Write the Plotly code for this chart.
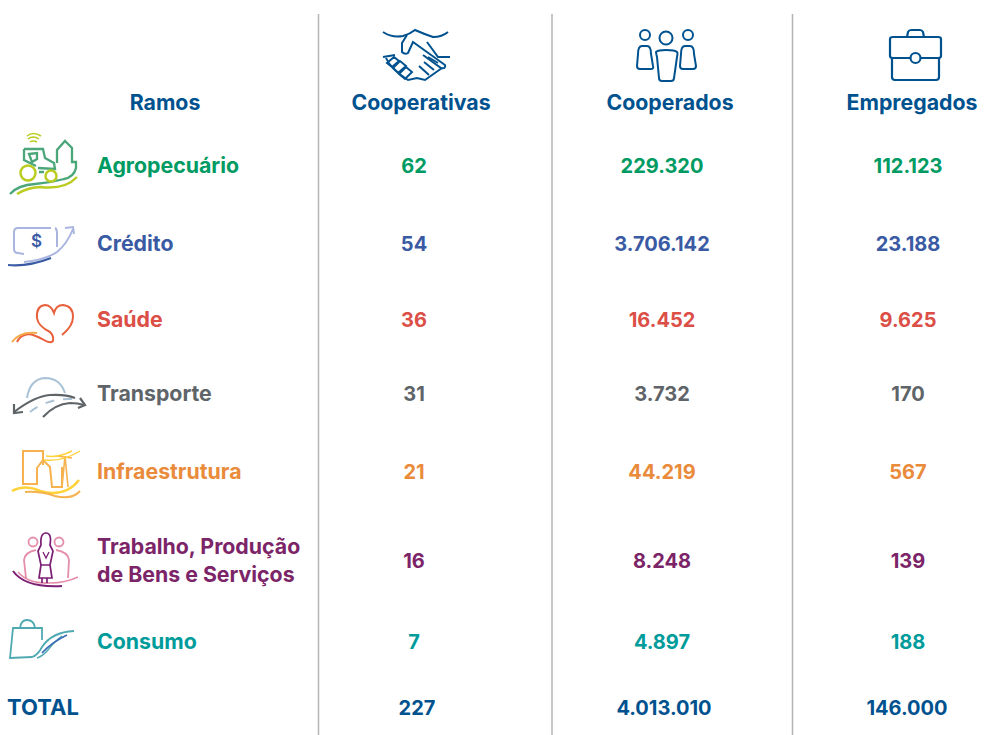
import plotly.graph_objects as go

ramos = ["Agropecuário", "Crédito", "Saúde", "Transporte", "Infraestrutura",
         "Trabalho, Produção<br>de Bens e Serviços", "Consumo"]
cooperativas = ["62", "54", "36", "31", "21", "16", "7"]
cooperados = ["229.320", "3.706.142", "16.452", "3.732", "44.219", "8.248", "4.897"]
empregados = ["112.123", "23.188", "9.625", "170", "567", "139", "188"]
cores = ["#009B63", "#3A5BA4", "#DB4F47", "#5E6468", "#E98B3B", "#7C2468", "#009B9B"]
headers = ["Ramos", "Cooperativas", "Cooperados", "Empregados"]
total = ["TOTAL", "227", "4.013.010", "146.000"]

NAVY = "#00528F"
FONT = "Inter"
SIZE = 21.3
NUM = 20
row_y = [167.5, 245.5, 321.5, 395.5, 473.5, 562.5, 643.5]
col_x = [414, 662, 908]
hdr_x = [165, 421, 670, 912]
total_x = [43, 417, 664, 907]
sep_x = [318.5, 552, 792.5]

fig = go.Figure()


def txt(x, y, s, color, pos="middle center", size=SIZE):
    fig.add_trace(go.Scatter(
        x=x, y=y, text=s, mode="text", textposition=pos, hoverinfo="skip",
        textfont=dict(family=FONT, size=size, color=color, weight=700),
        showlegend=False))


shapes = []


def ln(path, color, w=2.0, dash=None):
    shapes.append(dict(type="path", path=path, xref="x", yref="y",
                       line=dict(color=color, width=w, dash=dash or "solid")))


def circ(cx, cy, r, color, w=2.0):
    shapes.append(dict(type="circle", xref="x", yref="y", x0=cx - r, x1=cx + r,
                       y0=cy - r, y1=cy + r, line=dict(color=color, width=w)))


for sx in sep_x:
    shapes.append(dict(type="line", xref="x", yref="y", x0=sx, x1=sx, y0=14, y1=735,
                       line=dict(color="#B4B4B4", width=1.5)))

# --- header icons (decorative) ---
# handshake
ln("M383,32 Q392,38 403,36 Q410,34 415,30 Q424,34 433,37 Q442,37 448,32", NAVY, 2)
ln("M407,35 L402,43 L402,52 Q405,55 408,53 L413,42 L445,65 Q446,69 441,68 L423,55", NAVY, 2)
ln("M427,42 L438,57 L450,57", NAVY, 2)
ln("M383,57 L395,55", NAVY, 2)
ln("M386,58 Q390,68 408,80 L417,78 L425,80 L442,68", NAVY, 2)
ln("M428,57 L438,63 M424,62 L434,70 M419,66 L429,75", NAVY, 2)
ln("M387,63 L394,57 L399,61 L392,67 Z M393,68 L400,61 L406,66 L398,73 Z M399,74 L406,67 L412,72 L405,79 Z", NAVY, 2)
# people
circ(645, 35, 5, NAVY, 2)
circ(666, 38, 6.5, NAVY, 2)
circ(688, 35, 5, NAVY, 2)
ln("M642,46 Q638,46 638,54 L637,66 Q637,69 640,69 L651,69 Q654,69 653,66 L651,54 Q651,46 647,46 Z", NAVY, 2)
ln("M656,52 Q658,50 666,50 Q675,50 677,52 Q678,53 677,57 L674,78 Q674,81 671,81 L662,81 Q659,81 659,78 L657,57 Q656,53 656,52 Z", NAVY, 2)
ln("M685,46 Q681,46 681,54 L680,66 Q680,69 683,69 L693,69 Q696,69 696,66 L694,54 Q694,46 690,46 Z", NAVY, 2)
# briefcase
ln("M890,39 Q890,37 893,37 L938,37 Q941,37 941,39 L941,56 Q941,58 938,58 L893,58 Q890,58 890,56 Z", NAVY, 2.2)
ln("M892,58 L892,77 Q892,80 895,80 L936,80 Q939,80 939,77 L939,58", NAVY, 2.2)
ln("M907,37 L908,32 Q909,30 911,30 L920,30 Q922,30 923,32 L924,37", NAVY, 2.2)
shapes.append(dict(type="circle", xref="x", yref="y", x0=910.5, x1=920.5, y0=53, y1=63,
                   fillcolor="white", line=dict(color=NAVY, width=2.2)))

# --- row icons (decorative) ---
# agro
G = "#4BA67A"; L = "#B9CC1F"
ln("M57,163 L57,150 L65,141 L72,148 L72,162 L76,162 L76,168 Q74,177 64,179 Q50,183 35,184 Q18,185 10,194", G, 2.3)
ln("M24,149 L43,149 L45,158 L54,163 L55,169 L38,168 M24,149 L24,160 L36,166 M29,154 L37,153 L37,159 L32,162 Z M39,172 L44,172", G, 2.3)
circ(28, 173, 7.5, L, 2.5)
circ(51, 176, 5.5, L, 2.5)
ln("M17,194 Q26,188 40,187 Q65,190 77,177", L, 2.4)
ln("M28,139 Q33,135 39,139 M30,142 Q33,140 37,142", L, 1.5)
ln("M27,136 Q33,131 41,136", L, 1.5)
# credito
B = "#A9B5DF"
ln("M51,228 L18,228 Q14,228 14,232 L14,249 Q14,253 18,253 L24,254", B, 2)
ln("M55,228 Q57,229 57,233 L57,247", B, 2)
ln("M24,262 Q45,260 57,252 Q67,244 73,229", B, 2)
ln("M65,228 L73,227 L74,234", B, 2)
ln("M8,265 Q28,267 51,258", "#3A5BA4", 2.2)
# saude
R = "#E8603C"
ln("M62,335 Q73,326 73,317 Q73,306 63,305 Q56,305 54,313 Q51,305 45,305 Q36,306 37,318 Q38,326 50,332 Q54,336 53,341 Q50,344 44,340 Q30,332 25,335 Q20,336 17,342", R, 2)
ln("M12,342 Q20,331 37,333", "#F5A94A", 2)
# transporte
T = "#5E6468"
ln("M27,398 Q30,379 45,378 Q60,378 65,393", "#A9C2D6", 2)
ln("M14,412 Q35,396 50,395 Q65,394 75,398", T, 2.2)
ln("M14,404 L14,413 L23,412", T, 2.2)
ln("M43,417 Q55,404 70,403 Q78,403 84,405", T, 2.2)
ln("M80,398 L85,405 L78,408", T, 2.2)
ln("M30,412 Q48,398 72,399", "#A9C2D6", 2, "dash")
# infra
O = "#F5B24E"; Y = "#FFD23C"
ln("M36,484 L23,484 L23,451 L43,451 L43,465", O, 2)
ln("M37,485 L37,468 L43,460 L50,467 L52,487 L62,487 L62,467", O, 2)
ln("M57,456 L72,458 M65,456 L62,487 M65,456 L68,487", O, 1.6)
ln("M44,460 Q62,462 80,451 M46,456 Q58,458 72,451", Y, 1.4)
ln("M12,491 Q25,484 40,491 Q65,498 79,480", Y, 2.5)
ln("M25,492 Q40,491 55,496 Q72,500 80,491", O, 2)
# trabalho
P = "#7C1F74"; K = "#E58EAB"
circ(33, 542, 4.5, K, 1.8)
circ(59, 542, 4.5, K, 1.8)
ln("M26,578 L24,560 Q25,552 36,550 M68,578 L69,560 Q68,552 56,550", K, 1.8)
ln("M18,572 Q28,584 50,583 Q65,583 78,577", K, 1.6)
ln("M13,571 Q25,588 62,586", P, 2)
ln("M46,533 Q40,533 41,545 L38,551 L41,565 L39,578 L52,578 L50,565 L53,551 L50,545 Q52,533 46,533 Z", P, 1.7)
ln("M42,578 L42,583 M47,578 L47,583", P, 1.7)
ln("M43,552 L46,558 L49,552 M41,565 L50,565", P, 1.3)
# consumo
C = "#4FA9B1"
ln("M42,640 L42,628 L13,628 L10,658 L32,657 Q38,655 42,647 Q52,632 74,631", C, 1.8)
ln("M20,628 Q21,620 27,620 Q34,620 35,628", C, 1.8)
ln("M37,658 Q43,656 48,650 Q56,640 62,636", C, 1.4)
ln("M42,653 Q52,642 67,635", "#3A6DB5", 1.8)

# --- text ---
txt(hdr_x, [104.5] * 4, headers, NAVY)

for i, nome in enumerate(ramos):
    txt([97], [row_y[i]], [nome], cores[i], pos="middle right")
    txt(col_x, [row_y[i]] * 3, [cooperativas[i], cooperados[i], empregados[i]], cores[i], size=NUM)

txt(total_x[:1], [709.5], total[:1], NAVY, size=22)
txt(total_x[1:], [709.5] * 3, total[1:], NAVY, size=NUM)

fig.update_layout(
    width=1004, height=735, margin=dict(l=0, r=0, t=0, b=0),
    paper_bgcolor="white", plot_bgcolor="white", shapes=shapes, showlegend=False,
    xaxis=dict(range=[0, 1004], visible=False, fixedrange=True),
    yaxis=dict(range=[735, 0], visible=False, fixedrange=True),
)
fig.add_annotation(x=36, y=241, text="$", showarrow=False, xref="x", yref="y",
                   font=dict(family=FONT, size=17, color="#3A5BA4", weight=600))
fig.write_html("out.html", config={"displayModeBar": False},
               post_script="document.body.style.margin='0';document.documentElement.style.overflow='hidden';")
